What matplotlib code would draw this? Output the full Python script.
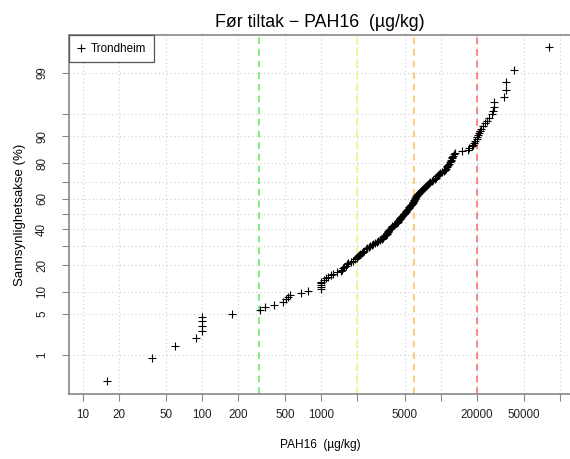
from statistics import NormalDist

import matplotlib

matplotlib.use("Agg")
import matplotlib.pyplot as plt
import numpy as np

plt.rcParams["font.family"] = ["Liberation Sans", "DejaVu Sans"]

# PAH16 concentrations (ug/kg), sorted
pah16 = [
    16, 38, 59, 89, 100, 100, 100, 100, 180, 305,
    337, 400, 478, 506, 526, 547, 676, 778, 1000, 1000,
    1000, 1000, 1000, 1053, 1094, 1137, 1205, 1252, 1354, 1463,
    1491, 1506, 1550, 1596, 1642, 1690, 1758, 1845, 1916, 1981,
    2011, 2050, 2090, 2131, 2181, 2236, 2302, 2369, 2429, 2496,
    2569, 2646, 2729, 2820, 2920, 3006, 3105, 3208, 3260, 3312,
    3377, 3436, 3476, 3537, 3578, 3613, 3648, 3717, 3773, 3831,
    3883, 3945, 4037, 4140, 4236, 4294, 4361, 4430, 4489, 4541,
    4604, 4694, 4776, 4850, 4918, 4975, 5044, 5093, 5152, 5212,
    5290, 5383, 5478, 5563, 5628, 5693, 5771, 5827, 5883, 5940,
    5998, 6056, 6104, 6175, 6247, 6340, 6413, 6505, 6593, 6720,
    6849, 6983, 7118, 7256, 7396, 7540, 7686, 7835, 7987, 8223,
    8467, 8717, 8976, 9150, 9328, 9508, 9693, 9881, 10270, 10670,
    10880, 11090, 11310, 11420, 11640, 11870, 11980, 12210, 12330, 12450,
    12570, 12690, 12940, 13200, 15020, 16960, 17460, 18210, 18670, 19040,
    19410, 20000, 20180, 20570, 20980, 21380, 21800, 22780, 23520, 24460,
    25580, 26960, 27660, 28020, 28200, 34000, 35140, 35300, 41250, 81520,
]

# class limits (ug/kg) and their line colours
limits = [300, 2000, 6000, 20000]
limit_colors = ["#66ee66", "#f7f27a", "#ffc266", "#ff7070"]

x_ticks = [10, 20, 50, 100, 200, 500, 1000, 2000, 5000, 10000, 20000, 50000, 100000]
x_labels = ["10", "20", "50", "100", "200", "500", "1000", "", "5000", "", "20000", "50000", ""]
y_ticks = [1, 5, 10, 20, 30, 40, 50, 60, 70, 80, 90, 95, 99]
y_labels = ["1", "5", "10", "20", "", "40", "", "60", "", "80", "90", "", "99"]

_nd = NormalDist()
_ppf = np.vectorize(_nd.inv_cdf, otypes=[float])
_cdf = np.vectorize(_nd.cdf, otypes=[float])


def _fwd(p):
    p = np.clip(np.asarray(p, dtype=float) / 100.0, 1e-9, 1 - 1e-9)
    return _ppf(p)


def _inv(z):
    return _cdf(np.asarray(z, dtype=float)) * 100.0


n = len(pah16)
prob = (np.arange(1, n + 1) - 0.5) / n * 100.0

fig = plt.figure(figsize=(5.7, 4.59), dpi=100)
ax = fig.add_axes([69 / 570, 65 / 459, 502 / 570, 359 / 459])
ax.set_xscale("log")
ax.set_yscale("function", functions=(_fwd, _inv))
ax.set_xlim(7.68, 123900)
ax.set_ylim(0.149, 99.843)

for t in x_ticks:
    ax.axvline(t, color="#cfcfcf", lw=0.8, ls=(0, (1, 2.5)), zorder=0)
for t in y_ticks:
    ax.axhline(t, color="#cfcfcf", lw=0.8, ls=(0, (1, 2.5)), zorder=0)

for lim, col in zip(limits, limit_colors):
    ax.axvline(lim, color=col, lw=1.2, ls=(0, (4, 3)), zorder=1)

ax.plot(pah16, prob, ls="none", marker="+", ms=5.5, mew=0.8, color="black",
        label="Trondheim", zorder=3)

ax.set_xticks(x_ticks)
ax.set_xticklabels(x_labels)
ax.set_yticks(y_ticks)
ax.set_yticklabels(y_labels, rotation=90, va="center")
ax.minorticks_off()
ax.tick_params(axis="both", direction="out", length=5, width=0.8,
               color="#888888", labelcolor="#222222", labelsize=8.4)
ax.tick_params(axis="x", pad=6)
ax.tick_params(axis="y", pad=10)
for sp in ax.spines.values():
    sp.set_color("#888888")
    sp.set_linewidth(1.2)

ax.set_title("Før tiltak \u2212 PAH16  (µg/kg)", fontsize=12.8, pad=6)
ax.set_xlabel("PAH16  (µg/kg)", fontsize=8.6, labelpad=13)
ax.set_ylabel("Sannsynlighetsakse (%)", fontsize=9.5, labelpad=7)

leg = ax.legend(loc="upper left", borderaxespad=0, fancybox=False, framealpha=1,
                edgecolor="#555555", fontsize=8.4, handlelength=0.7,
                handletextpad=0.5, borderpad=0.65)
leg.get_frame().set_linewidth(0.9)

fig.savefig("out.png", dpi=100)
